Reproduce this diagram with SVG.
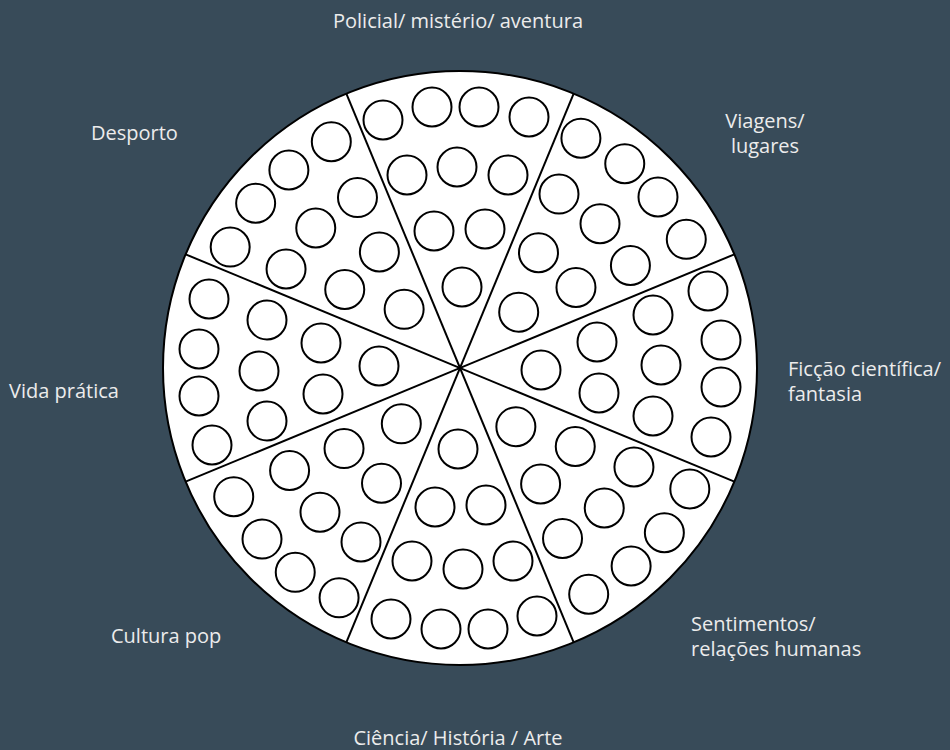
<svg xmlns="http://www.w3.org/2000/svg" xmlns:xlink="http://www.w3.org/1999/xlink" width="950" height="750" viewBox="0 0 950 750">
<style>
.lbl{font-family:"Open Sans","Liberation Sans",sans-serif;font-size:20px;fill:#ECECEC}
.dot{fill:#FFFFFF;stroke:#000000;stroke-width:2}
.spoke{stroke:#000000;stroke-width:2}
</style>
<defs>
<g id="dots">
<circle class="dot" cx="383" cy="120" r="19.5"/>
<circle class="dot" cx="432" cy="107" r="19.5"/>
<circle class="dot" cx="479" cy="107" r="19.5"/>
<circle class="dot" cx="529" cy="117" r="19.5"/>
<circle class="dot" cx="407" cy="175" r="19.5"/>
<circle class="dot" cx="457" cy="167" r="19.5"/>
<circle class="dot" cx="508" cy="175" r="19.5"/>
<circle class="dot" cx="434" cy="231" r="19.5"/>
<circle class="dot" cx="485" cy="229" r="19.5"/>
<circle class="dot" cx="462" cy="287" r="19.5"/>
</g>
</defs>
<rect x="0" y="0" width="950" height="750" fill="#384B59"/>
<g id="wheel">
<circle cx="460" cy="368" r="297" fill="#FFFFFF" stroke="#000000" stroke-width="2"/>
</g>
<g id="connectors">
<line class="spoke" x1="346.34" y1="93.61" x2="573.66" y2="642.39"/>
<line class="spoke" x1="573.66" y1="93.61" x2="346.34" y2="642.39"/>
<line class="spoke" x1="185.61" y1="254.34" x2="734.39" y2="481.66"/>
<line class="spoke" x1="734.39" y1="254.34" x2="185.61" y2="481.66"/>
</g>
<g id="sector-policial"><use xlink:href="#dots" href="#dots"/></g>
<g id="sector-viagens"><use xlink:href="#dots" href="#dots" transform="rotate(45 460 368)"/></g>
<g id="sector-ficcao"><use xlink:href="#dots" href="#dots" transform="rotate(90 460 368)"/></g>
<g id="sector-sentimentos"><use xlink:href="#dots" href="#dots" transform="rotate(135 460 368)"/></g>
<g id="sector-ciencia"><use xlink:href="#dots" href="#dots" transform="rotate(180 460 368)"/></g>
<g id="sector-cultura"><use xlink:href="#dots" href="#dots" transform="rotate(225 460 368)"/></g>
<g id="sector-vida"><use xlink:href="#dots" href="#dots" transform="rotate(270 460 368)"/></g>
<g id="sector-desporto"><use xlink:href="#dots" href="#dots" transform="rotate(315 460 368)"/></g>
<g id="label-policial"><text class="lbl" x="458" y="28" text-anchor="middle">Policial/ mistério/ aventura</text></g>
<g id="label-desporto"><text class="lbl" x="91" y="140">Desporto</text></g>
<g id="label-viagens"><text class="lbl" x="765" y="128" text-anchor="middle">Viagens/</text><text class="lbl" x="765" y="153" text-anchor="middle">lugares</text></g>
<g id="label-ficcao"><text class="lbl" x="788" y="376">Ficção científica/</text><text class="lbl" x="788" y="401">fantasia</text></g>
<g id="label-vida"><text class="lbl" x="9" y="398">Vida prática</text></g>
<g id="label-cultura"><text class="lbl" x="111" y="643">Cultura pop</text></g>
<g id="label-sentimentos"><text class="lbl" x="691" y="631">Sentimentos/</text><text class="lbl" x="691" y="656">relações humanas</text></g>
<g id="label-ciencia"><text class="lbl" x="458" y="745" text-anchor="middle">Ciência/ História / Arte</text></g>
</svg>
